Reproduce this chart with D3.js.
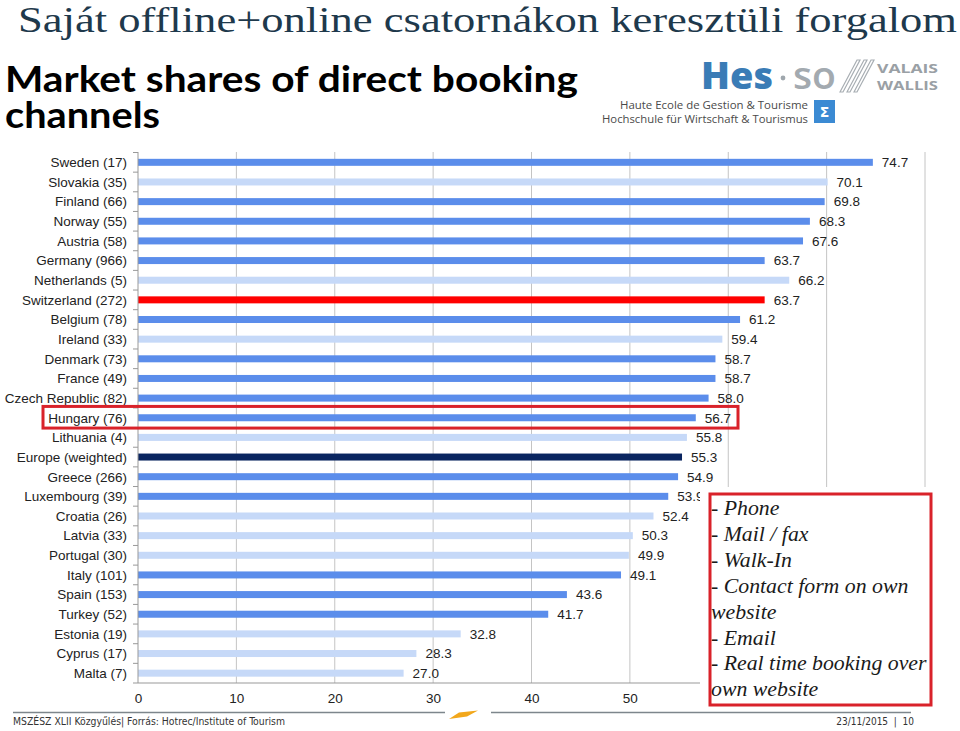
<!DOCTYPE html>
<html>
<head>
<meta charset="utf-8">
<script src="https://cdn.jsdelivr.net/npm/d3@7"></script>
<style>
  html, body { margin: 0; padding: 0; background: #fff; }
  svg { display: block; }
</style>
</head>
<body>
<svg id="chart" width="960" height="731"></svg>
<script>
// ---------- DATA ----------
const categories = [
  "Sweden (17)", "Slovakia (35)", "Finland (66)", "Norway (55)", "Austria (58)",
  "Germany (966)", "Netherlands (5)", "Switzerland (272)", "Belgium (78)", "Ireland (33)",
  "Denmark (73)", "France (49)", "Czech Republic (82)", "Hungary (76)", "Lithuania (4)",
  "Europe (weighted)", "Greece (266)", "Luxembourg (39)", "Croatia (26)", "Latvia (33)",
  "Portugal (30)", "Italy (101)", "Spain (153)", "Turkey (52)", "Estonia (19)",
  "Cyprus (17)", "Malta (7)"
];
const values = [
  74.7, 70.1, 69.8, 68.3, 67.6,
  63.7, 66.2, 63.7, 61.2, 59.4,
  58.7, 58.7, 58.0, 56.7, 55.8,
  55.3, 54.9, 53.9, 52.4, 50.3,
  49.9, 49.1, 43.6, 41.7, 32.8,
  28.3, 27.0
];
const groups = [
  "dark", "light", "dark", "dark", "dark",
  "dark", "light", "red", "dark", "light",
  "dark", "dark", "dark", "dark", "light",
  "navy", "dark", "dark", "light", "light",
  "light", "dark", "dark", "dark", "light",
  "light", "light"
];
const highlighted = "Hungary (76)";
const tickValues = [0, 10, 20, 30, 40, 50];
const gridValues = [10, 20, 30, 40, 50, 60, 70, 80];
const legendLines = [
  "- Phone", "- Mail / fax", "- Walk-In", "- Contact form on own", "website",
  "- Email", "- Real time booking over", "own website"
];
const titleText = "Saját offline+online csatornákon keresztüli forgalom";
const subtitleLines = ["Market shares of direct booking", "channels"];
const footerLeft = "MSZÉSZ XLII Közgyűlés| Forrás: Hotrec/Institute of Tourism";
const footerRight = "23/11/2015  |  10";

// ---------- STYLE ----------
const colors = { dark: "#5b8deb", light: "#c6d9f8", red: "#ff0000", navy: "#0a2560" };
const svg = d3.select("#chart");

// ---------- SCALES ----------
const x = d3.scaleLinear().domain([0, 80]).range([138, 925]);
const y = d3.scaleBand().domain(categories).range([152.5, 683]).padding(0);
const barH = 7;

// ---------- HEADER ----------
svg.append("text")
  .attr("x", 18).attr("y", 32)
  .attr("font-family", "'Liberation Serif', 'DejaVu Serif', serif")
  .attr("font-size", 36)
  .attr("fill", "#1e394c")
  .attr("textLength", 939).attr("lengthAdjust", "spacingAndGlyphs")
  .text(titleText);

svg.selectAll("text.sub").data(subtitleLines).enter().append("text")
  .attr("class", "sub")
  .attr("x", 5)
  .attr("y", (d, i) => 92 + i * 36)
  .attr("font-family", "Lato, 'Open Sans', sans-serif")
  .attr("font-weight", 700)
  .attr("font-size", 36)
  .attr("fill", "#000")
  .attr("textLength", (d, i) => i === 0 ? 573 : 155)
  .attr("lengthAdjust", "spacingAndGlyphs")
  .text(d => d);

// Logo
const logo = svg.append("g");
logo.append("text").attr("x", 701).attr("y", 89)
  .attr("font-family", "'Open Sans', Lato, sans-serif").attr("font-weight", 800)
  .attr("font-size", 37).attr("fill", "#3a7cb6")
  .attr("textLength", 72).attr("lengthAdjust", "spacingAndGlyphs").text("Hes");
logo.append("circle").attr("cx", 783).attr("cy", 78).attr("r", 2.4).attr("fill", "#9fa7ad");
logo.append("text").attr("x", 793).attr("y", 89)
  .attr("font-family", "'Open Sans', Lato, sans-serif").attr("font-weight", 600)
  .attr("font-size", 37).attr("fill", "#a3aab0")
  .attr("textLength", 43).attr("lengthAdjust", "spacingAndGlyphs").text("so");
[0, 7, 14].forEach(o => {
  logo.append("path")
    .attr("d", `M${840 + o},92 L${857 + o},60 L${860 + o},60 L${843 + o},92 Z`)
    .attr("fill", "none").attr("stroke", "#a8aeb3").attr("stroke-width", 1.2);
});
logo.append("text").attr("x", 877).attr("y", 73)
  .attr("font-family", "'Open Sans', Lato, sans-serif").attr("font-weight", 700)
  .attr("font-size", 13).attr("fill", "#9aa0a5")
  .attr("textLength", 61).attr("lengthAdjust", "spacingAndGlyphs").text("VALAIS");
logo.append("text").attr("x", 877).attr("y", 90)
  .attr("font-family", "'Open Sans', Lato, sans-serif").attr("font-weight", 700)
  .attr("font-size", 13).attr("fill", "#9aa0a5")
  .attr("textLength", 61).attr("lengthAdjust", "spacingAndGlyphs").text("WALLIS");
logo.append("text").attr("x", 808).attr("y", 109).attr("text-anchor", "end")
  .attr("font-family", "'Open Sans', sans-serif").attr("font-size", 11).attr("fill", "#4a4a4a")
  .attr("textLength", 188).attr("lengthAdjust", "spacingAndGlyphs")
  .text("Haute Ecole de Gestion & Tourisme");
logo.append("text").attr("x", 808).attr("y", 123).attr("text-anchor", "end")
  .attr("font-family", "'Open Sans', sans-serif").attr("font-size", 11).attr("fill", "#4a4a4a")
  .attr("textLength", 206).attr("lengthAdjust", "spacingAndGlyphs")
  .text("Hochschule für Wirtschaft & Tourismus");
logo.append("rect").attr("x", 814).attr("y", 100).attr("width", 21).attr("height", 23)
  .attr("fill", "#3b8ad3");
logo.append("text").attr("x", 824.5).attr("y", 117).attr("text-anchor", "middle")
  .attr("font-family", "'DejaVu Sans', sans-serif").attr("font-weight", 700)
  .attr("font-size", 14).attr("fill", "#fff").text("Σ");

// ---------- GRID ----------
svg.append("g").selectAll("line").data(gridValues).enter().append("line")
  .attr("x1", d => x(d)).attr("x2", d => x(d))
  .attr("y1", 152).attr("y2", 683)
  .attr("stroke", "#c4c4c4").attr("stroke-width", 1);

// ---------- BARS ----------
const rows = categories.map((c, i) => ({ c, v: values[i], g: groups[i] }));
svg.append("g").selectAll("rect").data(rows).enter().append("rect")
  .attr("x", x(0))
  .attr("y", d => y(d.c) + y.bandwidth() / 2 - barH / 2)
  .attr("width", d => x(d.v) - x(0))
  .attr("height", barH)
  .attr("fill", d => colors[d.g]);

// Value labels
svg.append("g").selectAll("text").data(rows).enter().append("text")
  .attr("x", d => x(d.v) + 9)
  .attr("y", d => y(d.c) + y.bandwidth() / 2)
  .attr("dy", "0.36em")
  .attr("font-family", "'Liberation Sans', Arial, sans-serif")
  .attr("font-size", 13.5)
  .attr("fill", "#222")
  .text(d => d3.format(".1f")(d.v));

// Category labels
svg.append("g").selectAll("text").data(categories).enter().append("text")
  .attr("x", 127)
  .attr("y", d => y(d) + y.bandwidth() / 2)
  .attr("dy", "0.36em")
  .attr("text-anchor", "end")
  .attr("font-family", "'Liberation Sans', Arial, sans-serif")
  .attr("font-size", 13.5)
  .attr("fill", "#222")
  .text(d => d);

// ---------- AXES ----------
svg.append("line").attr("x1", x(0)).attr("x2", x(0)).attr("y1", 152).attr("y2", 683)
  .attr("stroke", "#999").attr("stroke-width", 1);
const bounds = categories.map(c => y(c)).concat([y.range()[1]]);
svg.append("g").selectAll("line").data(bounds).enter().append("line")
  .attr("x1", x(0) - 5).attr("x2", x(0))
  .attr("y1", d => d).attr("y2", d => d)
  .attr("stroke", "#999").attr("stroke-width", 1);

const xAxis = d3.axisBottom(x).tickValues(tickValues).tickSize(0).tickPadding(10)
  .tickFormat(d3.format("d"));
const gx = svg.append("g").attr("transform", "translate(0,683)").call(xAxis);
gx.select(".domain").remove();
gx.selectAll("text")
  .attr("font-family", "'Liberation Sans', Arial, sans-serif")
  .attr("font-size", 13.5).attr("fill", "#222");
svg.append("line").attr("x1", x(0)).attr("x2", 700).attr("y1", 683).attr("y2", 683)
  .attr("stroke", "#999").attr("stroke-width", 1);

// Hungary highlight box
svg.append("rect")
  .attr("x", 43).attr("y", y(highlighted) - 1.5)
  .attr("width", 695).attr("height", y.bandwidth() + 2)
  .attr("fill", "none").attr("stroke", "#d9222a").attr("stroke-width", 3);

// ---------- LEGEND BOX ----------
svg.append("rect").attr("x", 700).attr("y", 487).attr("width", 260).attr("height", 224)
  .attr("fill", "#fff");
svg.append("rect").attr("x", 710).attr("y", 494).attr("width", 221).attr("height", 211)
  .attr("fill", "#fff").attr("stroke", "#d9222a").attr("stroke-width", 3);
svg.append("g").selectAll("text").data(legendLines).enter().append("text")
  .attr("x", 711)
  .attr("y", (d, i) => 515 + i * 25.9)
  .attr("font-family", "'Liberation Serif', 'DejaVu Serif', serif")
  .attr("font-style", "italic")
  .attr("font-size", 21.8)
  .attr("fill", "#1a1a1a")
  .text(d => d);

// ---------- FOOTER ----------
svg.append("line").attr("x1", 13).attr("x2", 445).attr("y1", 712.5).attr("y2", 712.5)
  .attr("stroke", "#7d868c").attr("stroke-width", 1.5);
svg.append("line").attr("x1", 491).attr("x2", 911).attr("y1", 712.5).attr("y2", 712.5)
  .attr("stroke", "#7d868c").attr("stroke-width", 1.5);
svg.append("path").attr("d", "M449,719 L459,712.5 L478,710.5 L467,716.5 Z")
  .attr("fill", "#f2a71b");
svg.append("text").attr("x", 13).attr("y", 724.5)
  .attr("font-family", "'DejaVu Sans Condensed', 'DejaVu Sans', sans-serif")
  .attr("font-size", 10).attr("fill", "#333")
  .attr("textLength", 272).attr("lengthAdjust", "spacingAndGlyphs")
  .text(footerLeft);
svg.append("text").attr("x", 914).attr("y", 724.5).attr("text-anchor", "end")
  .attr("font-family", "'DejaVu Sans Condensed', 'DejaVu Sans', sans-serif")
  .attr("font-size", 10).attr("fill", "#333")
  .attr("xml:space", "preserve")
  .text(footerRight);
</script>
</body>
</html>
